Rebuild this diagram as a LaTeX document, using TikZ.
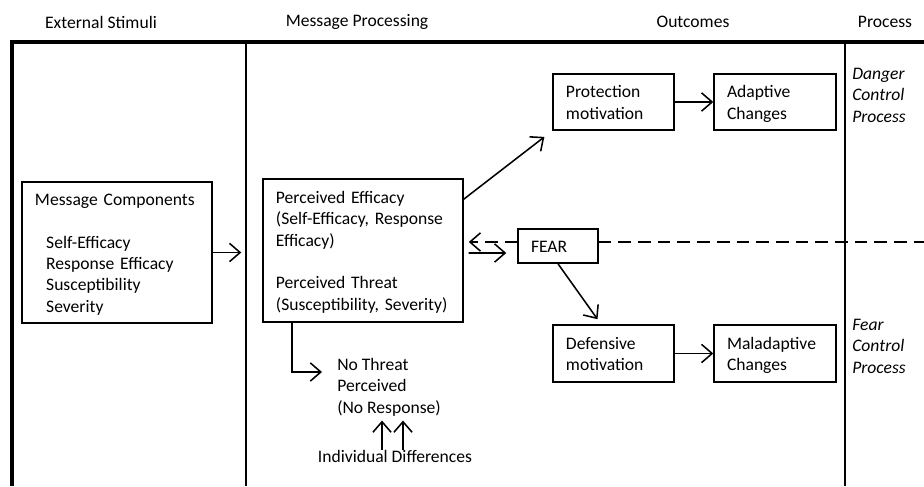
\documentclass[tikz,border=0pt]{standalone}
\usepackage{fontspec}
\setmainfont{Carlito}
\usetikzlibrary{arrows.meta, positioning, calc}

\begin{document}
\begin{tikzpicture}[
  x=0.025cm, y=-0.025cm,
  font=\fontsize{12.5}{15.2}\selectfont,
  box/.style={rectangle, draw, line width=1.1pt, align=left, inner xsep=9.2pt, inner ysep=1pt,
    execute at begin node=\rule{0pt}{12pt}, execute at end node=\rule[-3pt]{0pt}{3pt}},
  head/.style={inner sep=0pt},
  side/.style={font=\fontsize{12.5}{15.2}\selectfont\itshape, align=left, inner sep=0pt, anchor=north west},
  frame/.style={line width=2.2pt},
  divider/.style={line width=1.3pt},
  arrow/.style={line width=1.1pt, -{Straight Barb[length=7.5pt, width=13pt, line width=1.1pt]}},
  fearline/.style={line width=1.1pt, dash pattern=on 9pt off 5pt}
]
\useasboundingbox (0,0) rectangle (924,486);

% Frame
\draw[frame] (12,486) -- (12,42) -- (924,42);
\draw[divider] (246,42) -- (246,486);
\draw[divider] (845,42) -- (845,486);

% Headings
\node[head] (hstim) at (101,22) {External Stimuli};
\node[head] (hproc) at (357,22) {Message Processing};
\node[head] (hout) at (693,22) {Outcomes};
\node[head] (hprocess) at (885,22) {Process};

% Boxes
\node[box, text width=4.1cm, minimum height=3.525cm] (comp) at (117,252.5)
  {Message Components\\[\baselineskip]
   \hspace*{0.28cm}Self-Efficacy\\
   \hspace*{0.28cm}Response Efficacy\\
   \hspace*{0.28cm}Susceptibility\\
   \hspace*{0.28cm}Severity};
\node[box, text width=4.35cm, minimum height=3.575cm] (perc) at (363,250.5)
  {Perceived Efficacy\\
   (Self-Efficacy, Response\\
   Efficacy)\\[\baselineskip]
   Perceived Threat\\
   (Susceptibility, Severity)};
\node[box, text width=1.35cm, minimum height=0.85cm] (fear) at (558,246) {FEAR};
\node[box, text width=2.375cm, minimum height=1.4cm] (prot) at (613.5,102) {Protection\\motivation};
\node[box, text width=2.4cm, minimum height=1.4cm] (adapt) at (775,102) {Adaptive\\Changes};
\node[box, text width=2.375cm, minimum height=1.425cm] (def) at (613.5,353.5) {Defensive\\motivation};
\node[box, text width=2.4cm, minimum height=1.425cm] (maladapt) at (775,353.5) {Maladaptive\\Changes};

% Free texts
\node[align=left, inner sep=0pt, anchor=north west] (nothreat) at (337,358)
  {No Threat\\Perceived\\(No Response)};
\node[inner sep=0pt] (indiv) at (395,456) {Individual Differences};
\node[side] (danger) at (852,68) {Danger\\Control\\Process};
\node[side] (fearctl) at (852,319) {Fear\\Control\\Process};

% Connections
\draw[arrow, shorten >=0.525cm] (comp.east) -- (comp.east -| perc.west);
\draw[arrow, shorten >=0.25cm] ($(perc.north east)+(0,21)$) -- (prot.south west);
\draw[arrow] ($(perc.east)+(5,2.5)$) -- ($(fear.west)+(-11,7)$);
\draw[arrow, fearline] ($(fear.west)+(0,-4)$) -- ($(perc.east)+(5,-8.5)$);
\coordinate (edge) at (924,242);
\draw[fearline] ($(fear.east)+(0,-4)$) -- (edge);
\draw[arrow] (fear.south) -- ($(def.north)+(-16,-5)$);
\draw[arrow] (prot) -- (adapt);
\draw[arrow] (def) -- (maladapt);
\draw[arrow] ($(perc.south west)+(30,0)$) |- ($(nothreat.north west)+(-15,14)$);
\foreach \dx in {-13,8}
  \draw[arrow] ([xshift=\dx*0.025cm]indiv.north) -- ([xshift=\dx*0.025cm, yshift=-3pt]indiv.north |- nothreat.south);

\end{tikzpicture}
\end{document}
